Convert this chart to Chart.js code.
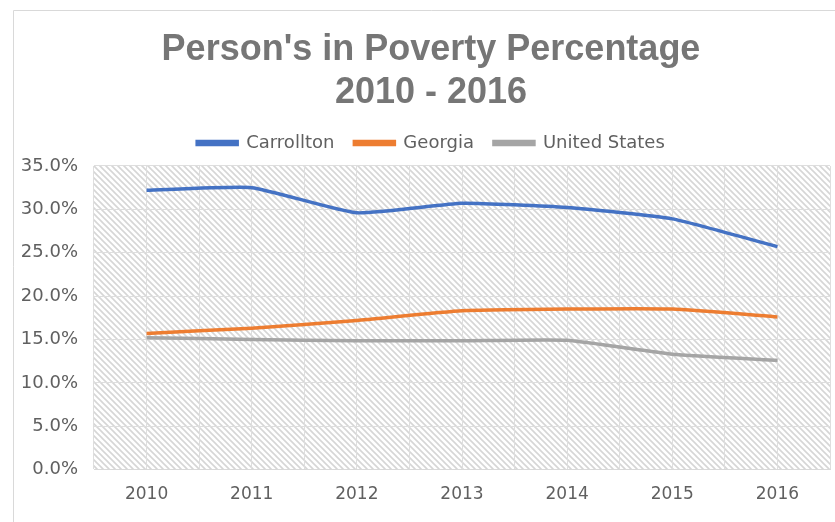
<!DOCTYPE html>
<html>
<head>
<meta charset="utf-8">
<script src="https://cdn.jsdelivr.net/npm/chart.js@4.4.1/dist/chart.umd.min.js"></script>
<style>
  html, body { margin: 0; padding: 0; background: #fff; overflow: hidden; }
  #wrap { width: 835px; height: 522px; overflow: hidden; }
</style>
</head>
<body>
<div id="wrap"><canvas id="chart" width="849" height="522"></canvas></div>
<script>
const years = ['2010', '2011', '2012', '2013', '2014', '2015', '2016']
const carrollton = [32.2, 32.5, 29.6, 30.7, 30.2, 28.9, 25.7]
const georgia = [15.7, 16.3, 17.2, 18.3, 18.5, 18.5, 17.6]
const unitedStates = [15.2, 15.0, 14.85, 14.85, 14.9, 13.3, 12.6]

const TITLE_FONT = "'Liberation Sans', Arial, sans-serif"
const FONT = "'DejaVu Sans', sans-serif"
const GRID = '#dedede'

// diagonal hatch for the plot area
function makeHatch (ctx) {
  const c = document.createElement('canvas')
  c.width = 6
  c.height = 6
  const p = c.getContext('2d')
  p.fillStyle = '#ffffff'
  p.fillRect(0, 0, 6, 6)
  p.strokeStyle = '#d6d6d6'
  p.lineWidth = 1.6
  p.beginPath()
  p.moveTo(-3, -3); p.lineTo(9, 9)
  p.moveTo(-9, -3); p.lineTo(3, 9)
  p.moveTo(3, -3); p.lineTo(15, 9)
  p.stroke()
  return ctx.createPattern(c, 'repeat')
}

const background = {
  id: 'background',
  beforeDraw (chart) {
    const { ctx, chartArea } = chart
    ctx.save()
    ctx.strokeStyle = '#d9d9d9'
    ctx.lineWidth = 1
    ctx.beginPath()
    ctx.moveTo(13.5, 522)
    ctx.lineTo(13.5, 10.5)
    ctx.lineTo(849, 10.5)
    ctx.stroke()
    ctx.fillStyle = makeHatch(ctx)
    ctx.fillRect(chartArea.left, chartArea.top, chartArea.right - chartArea.left, chartArea.bottom - chartArea.top)
    ctx.restore()
  }
}

function series (label, data, color) {
  return {
    label,
    data,
    borderColor: color,
    backgroundColor: color,
    borderWidth: 3.5,
    pointRadius: 0,
    tension: 0.15,
    fill: false
  }
}

new Chart(document.getElementById('chart'), {
  type: 'line',
  data: {
    labels: years,
    datasets: [
      series('Carrollton', carrollton, '#4472c4'),
      series('Georgia', georgia, '#ed7d31'),
      series('United States', unitedStates, '#a5a5a5')
    ]
  },
  options: {
    responsive: false,
    animation: false,
    layout: { padding: { top: 0, right: 0, bottom: 2, left: 13 } },
    plugins: {
      tooltip: { enabled: false },
      title: {
        display: true,
        text: ["Person's in Poverty Percentage", '2010 - 2016'],
        color: '#767676',
        font: { family: TITLE_FONT, size: 36, weight: 'bold', lineHeight: 1.18 },
        padding: { top: 29, bottom: 0 }
      },
      legend: {
        position: 'top',
        labels: {
          color: '#606060',
          font: { family: FONT, size: 18 },
          boxWidth: 40,
          boxHeight: 3,
          padding: 20
        }
      }
    },
    scales: {
      x: {
        type: 'category',
        offset: true,
        grid: { color: GRID, offset: true, drawTicks: false },
        border: { color: '#d9d9d9' },
        ticks: { color: '#606060', font: { family: FONT, size: 17 }, padding: 15 }
      },
      // second category axis: only adds grid lines through the category centres
      x2: {
        type: 'category',
        labels: years,
        offset: true,
        position: 'top',
        grid: { color: GRID, offset: false, drawTicks: false },
        border: { display: false },
        ticks: { display: false },
        afterFit (scale) { scale.height = 4 }
      },
      y: {
        min: 0,
        max: 35,
        grid: { color: GRID, drawTicks: false },
        border: { display: false },
        ticks: {
          stepSize: 5,
          color: '#606060',
          font: { family: FONT, size: 18 },
          padding: 16,
          callback: (v) => v.toFixed(1) + '%'
        },
        afterFit (scale) { scale.width = 81 }
      },
      // empty right axis, keeps the plot edge at the same place as the original
      yRight: {
        position: 'right',
        grid: { display: false },
        border: { display: false },
        ticks: { display: false },
        afterFit (scale) { scale.width = 19 }
      }
    }
  },
  plugins: [background]
})
</script>
</body>
</html>
